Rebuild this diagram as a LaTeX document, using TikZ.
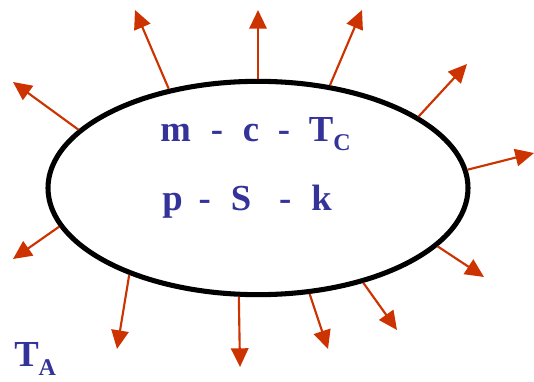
\documentclass[tikz,border=0pt]{standalone}
\usepackage{fontspec}
\setmainfont{Liberation Serif}
\usetikzlibrary{arrows.meta,shapes.geometric}

\definecolor{inkblue}{RGB}{51,51,153}
\definecolor{heatred}{RGB}{204,51,0}
\newcommand{\lowsub}[1]{\raisebox{-6.75pt}{\fontsize{18}{20}\selectfont #1}}

\begin{document}
\begin{tikzpicture}[x=0.75pt, y=-0.75pt,
    body/.style={draw, ellipse, line width=3.8pt, inner sep=0pt,
      minimum width=315pt, minimum height=160pt},
    heat/.style={draw=heatred, line width=1.6pt,
      -{Triangle[length=14pt,width=13pt]}, heatred},
    label/.style={text=inkblue, font=\fontsize{27.5}{30}\selectfont\bfseries,
      inner sep=0pt, anchor=base west}]
  \useasboundingbox (0,0) rectangle (534,381);

  % the body and what it is made of
  \node[body] (system) at (258,188) {};
  \node[label] (props) at (160,141)
    {m\hspace{15pt}-\hspace{15pt}c\hspace{14pt}-\hspace{14pt}T\lowsub{C}};
  \node[label] (state) at (162,210)
    {p\hspace{12pt}-\hspace{15pt}S\hspace{21pt}-\hspace{15pt}k};

  % surroundings
  \node[label] (ambient) at (14,366) {T\lowsub{A}};

  % heat leaving the body
  \coordinate (q1) at (135,10);
  \coordinate (q2) at (258,10);
  \coordinate (q3) at (362,10);
  \coordinate (q4) at (467,64);
  \coordinate (q5) at (534,153);
  \coordinate (q6) at (484,277);
  \coordinate (q7) at (397,330);
  \coordinate (q8) at (328,349);
  \coordinate (q9) at (240,367);
  \coordinate (q10) at (117,349);
  \coordinate (q11) at (13,259);
  \coordinate (q12) at (13,82);

  \foreach \a/\q in {132.5/q1, 90/q2, 55.3/q3, 24/q4, 5.1/q5, 342.9/q6,
      318.5/q7, 296.6/q8, 260.5/q9, 214.7/q10, 191.7/q11, 162.4/q12}
    \draw[heat] (system.\a) -- (\q);
\end{tikzpicture}
\end{document}
